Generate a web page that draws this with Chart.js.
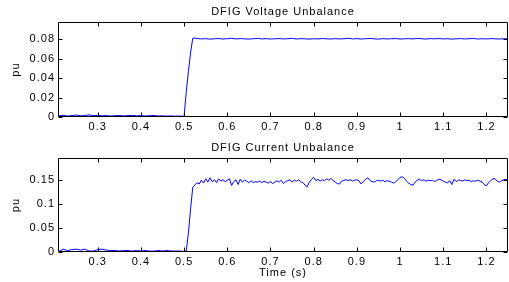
<!DOCTYPE html>
<html><head><meta charset="utf-8">
<script src="https://cdn.jsdelivr.net/npm/chart.js@4"></script>
<style>
html,body{margin:0;padding:0;background:#fff;width:509px;height:282px;overflow:hidden}
#c1{position:absolute;left:0;top:0;width:509px;height:140px}
#c2{position:absolute;left:0;top:140px;width:509px;height:142px}
</style>
</head><body>
<canvas id="c1" width="509" height="140"></canvas>
<canvas id="c2" width="509" height="142"></canvas>
<script>
// ---- data ----
const titleV = "DFIG Voltage Unbalance";
const titleI = "DFIG Current Unbalance";
const xTitle = "Time (s)";
const yTitle = "pu";
const xTicks = [0.3,0.4,0.5,0.6,0.7,0.8,0.9,1,1.1,1.2];
const yTicksV = [0,0.02,0.04,0.06,0.08];
const yTicksI = [0,0.05,0.1,0.15];

const timeV = [0.21,0.22,0.23,0.24,0.25,0.26,0.27,0.28,0.29,0.30,
0.31,0.32,0.33,0.34,0.35,0.36,0.37,0.38,0.39,0.40,
0.41,0.42,0.43,0.44,0.45,0.46,0.47,0.48,0.49,0.50,
0.505,0.51,0.515,0.52,0.525,
0.53,0.54,0.55,0.56,0.57,0.58,0.59,0.60,0.61,0.62,
0.63,0.64,0.65,0.66,0.67,0.68,0.69,0.70,0.71,0.72,
0.73,0.74,0.75,0.76,0.77,0.78,0.79,0.80,0.81,0.82,
0.83,0.84,0.85,0.86,0.87,0.88,0.89,0.90,0.91,0.92,
0.93,0.94,0.95,0.96,0.97,0.98,0.99,1.00,1.01,1.02,
1.03,1.04,1.05,1.06,1.07,1.08,1.09,1.10,1.11,1.12,
1.13,1.14,1.15,1.16,1.17,1.18,1.19,1.20,1.21,1.22,
1.23,1.24,1.25];
const voltage = [0.0012,0.0018,0.0010,0.0015,0.0020,0.0012,0.0016,0.0022,0.0014,0.0018,
0.0012,0.0015,0.0010,0.0013,0.0016,0.0011,0.0014,0.0017,0.0012,0.0015,
0.0011,0.0013,0.0016,0.0010,0.0012,0.0009,0.0011,0.0008,0.0010,0.0006,
0.026,0.047,0.066,0.081,0.0812,
0.0808,0.0803,0.0806,0.0801,0.0804,0.0807,0.0802,0.0805,0.0809,0.0803,
0.0806,0.0804,0.0801,0.0805,0.0808,0.0803,0.0806,0.0802,0.0804,0.0807,
0.0803,0.0805,0.0809,0.0802,0.0806,0.0804,0.0801,0.0805,0.0803,0.0807,
0.0804,0.0802,0.0806,0.0803,0.0805,0.0810,0.0803,0.0806,0.0802,0.0805,
0.0808,0.0804,0.0801,0.0806,0.0803,0.0805,0.0807,0.0802,0.0804,0.0806,
0.0803,0.0808,0.0805,0.0802,0.0806,0.0804,0.0807,0.0803,0.0805,0.0801,
0.0804,0.0806,0.0803,0.0805,0.0808,0.0802,0.0805,0.0803,0.0806,0.0804,
0.0802,0.0805,0.0804];

const timeI = [0.21,0.22,0.23,0.24,0.25,0.26,0.27,0.28,0.29,0.30,
0.31,0.32,0.33,0.34,0.35,0.36,0.37,0.38,0.39,0.40,
0.41,0.42,0.43,0.44,0.45,0.46,0.47,0.48,0.49,0.50,
0.505,0.51,0.515,0.52,0.525,
0.53,0.535,0.54,0.545,0.55,
0.555,0.56,0.565,0.57,0.575,
0.58,0.585,0.59,0.595,0.60,
0.605,0.61,0.615,0.62,0.625,
0.63,0.635,0.64,0.645,0.65,
0.655,0.66,0.665,0.67,0.675,
0.68,0.685,0.69,0.695,0.70,
0.705,0.71,0.715,0.72,0.725,
0.73,0.735,0.74,0.745,0.75,
0.755,0.76,0.765,0.77,0.775,
0.78,0.785,0.79,0.795,0.80,
0.805,0.81,0.815,0.82,0.825,
0.83,0.835,0.84,0.845,0.85,
0.855,0.86,0.865,0.87,0.875,
0.88,0.885,0.89,0.895,0.90,
0.905,0.91,0.915,0.92,0.925,
0.93,0.935,0.94,0.945,0.95,
0.955,0.96,0.965,0.97,0.975,
0.98,0.985,0.99,0.995,1.00,
1.005,1.01,1.015,1.02,1.025,
1.03,1.035,1.04,1.045,1.05,
1.055,1.06,1.065,1.07,1.075,
1.08,1.085,1.09,1.095,1.10,
1.105,1.11,1.115,1.12,1.125,
1.13,1.135,1.14,1.145,1.15,
1.155,1.16,1.165,1.17,1.175,
1.18,1.185,1.19,1.195,1.20,
1.205,1.21,1.215,1.22,1.225,
1.23,1.235,1.24,1.245,1.25];
const current = [0.001,0.006,0.003,0.005,0.006,0.004,0.006,0.002,0.002,0.005,
0.006,0.004,0.003,0.003,0.002,0.003,0.003,0.002,0.003,0.002,
0.003,0.002,0.002,0.003,0.002,0.003,0.002,0.002,0.002,0.001,
0.002,0.040,0.090,0.135,0.140,
0.145,0.142,0.150,0.144,0.153,
0.146,0.155,0.147,0.151,0.145,
0.153,0.148,0.151,0.147,0.150,
0.153,0.139,0.147,0.151,0.141,
0.152,0.146,0.150,0.148,0.145,
0.149,0.145,0.147,0.146,0.148,
0.145,0.148,0.146,0.144,0.147,
0.143,0.146,0.149,0.146,0.150,
0.143,0.147,0.149,0.151,0.146,
0.150,0.148,0.151,0.147,0.145,
0.140,0.136,0.146,0.152,0.156,
0.149,0.152,0.148,0.151,0.149,
0.153,0.150,0.154,0.149,0.146,
0.143,0.142,0.148,0.150,0.151,
0.149,0.151,0.148,0.150,0.151,
0.149,0.142,0.147,0.152,0.155,
0.150,0.147,0.146,0.149,0.150,
0.148,0.150,0.147,0.149,0.148,
0.146,0.144,0.147,0.151,0.156,
0.157,0.154,0.148,0.144,0.141,
0.140,0.146,0.150,0.152,0.149,
0.151,0.148,0.150,0.149,0.150,
0.147,0.150,0.152,0.151,0.148,
0.146,0.144,0.149,0.141,0.152,
0.147,0.150,0.150,0.148,0.151,
0.149,0.150,0.147,0.149,0.148,
0.150,0.148,0.146,0.141,0.138,
0.145,0.149,0.153,0.153,0.148,
0.146,0.149,0.151,0.152,0.150];

// ---- rendering ----
const FONT = "'Liberation Sans', Arial, sans-serif";
Chart.defaults.font.family = FONT;
Chart.defaults.font.size = 11;
Chart.defaults.color = '#000';

const spacing = {
  id: 'spacing',
  beforeLayout(chart) { chart.ctx.letterSpacing = '1px'; },
  beforeDraw(chart) { chart.ctx.letterSpacing = '1px'; }
};

const boxTicks = {
  id: 'boxTicks',
  afterDatasetsDraw(chart) {
    const {ctx, chartArea: a, scales: {x, y}} = chart;
    ctx.save();
    ctx.strokeStyle = '#000';
    ctx.lineWidth = 1;
    const L = Math.round(a.left) + 0.5, R = Math.round(a.right) - 0.5;
    const T = Math.round(a.top) + 0.5, B = Math.round(a.bottom) - 0.5;
    ctx.beginPath();
    ctx.rect(L, T, R - L, B - T);
    x.ticks.forEach(t => {
      const px = Math.round(x.getPixelForValue(t.value)) + 0.5;
      ctx.moveTo(px, B); ctx.lineTo(px, B - 4);
      ctx.moveTo(px, T); ctx.lineTo(px, T + 4);
    });
    y.ticks.forEach(t => {
      const py = Math.round(y.getPixelForValue(t.value)) + 0.5;
      ctx.moveTo(L, py); ctx.lineTo(L + 4, py);
      ctx.moveTo(R, py); ctx.lineTo(R - 4, py);
    });
    ctx.stroke();
    ctx.restore();
  }
};

function makeChart(id, title, titlePad, times, values, yMax, yTicks, xAxisH, showXTitle) {
  return new Chart(document.getElementById(id), {
    type: 'line',
    data: {
      datasets: [{
        data: times.map((t, i) => ({x: t, y: values[i]})),
        borderColor: '#0000ff',
        borderWidth: 1,
        pointRadius: 0,
        tension: 0,
        fill: false
      }]
    },
    options: {
      responsive: false,
      animation: false,
      layout: {padding: {left: 0, right: 1, top: 0, bottom: 0}},
      plugins: {
        legend: {display: false},
        tooltip: {enabled: false},
        title: {
          display: true, text: title, fullSize: false,
          font: {family: FONT, size: 11, weight: 'normal'},
          color: '#000',
          padding: titlePad
        }
      },
      scales: {
        x: {
          type: 'linear', min: 0.208, max: 1.25,
          grid: {display: false, drawTicks: false},
          border: {display: false},
          afterBuildTicks: s => { s.ticks = xTicks.map(v => ({value: v})); },
          afterFit: s => { s.height = xAxisH; },
          ticks: {padding: 3, maxRotation: 0, autoSkip: false, callback: v => String(v), color: '#000'},
          title: {display: showXTitle, text: xTitle, color: '#000', padding: {top: 0, bottom: 2}}
        },
        y: {
          type: 'linear', min: 0, max: yMax,
          grid: {display: false, drawTicks: false},
          border: {display: false},
          afterBuildTicks: s => { s.ticks = yTicks.map(v => ({value: v})); },
          afterFit: s => { s.width = 58; },
          ticks: {padding: 3, autoSkip: false, callback: v => String(v), color: '#000'},
          title: {display: true, text: yTitle, color: '#000', padding: {top: 9, bottom: 0}}
        }
      }
    },
    plugins: [spacing, boxTicks]
  });
}

makeChart('c1', titleV, {top: 5, bottom: 4}, timeV, voltage, 0.0975, yTicksV, 23, false);
makeChart('c2', titleI, {top: 1, bottom: 4}, timeI, current, 0.196, yTicksI, 30, true);
</script>
</body></html>
